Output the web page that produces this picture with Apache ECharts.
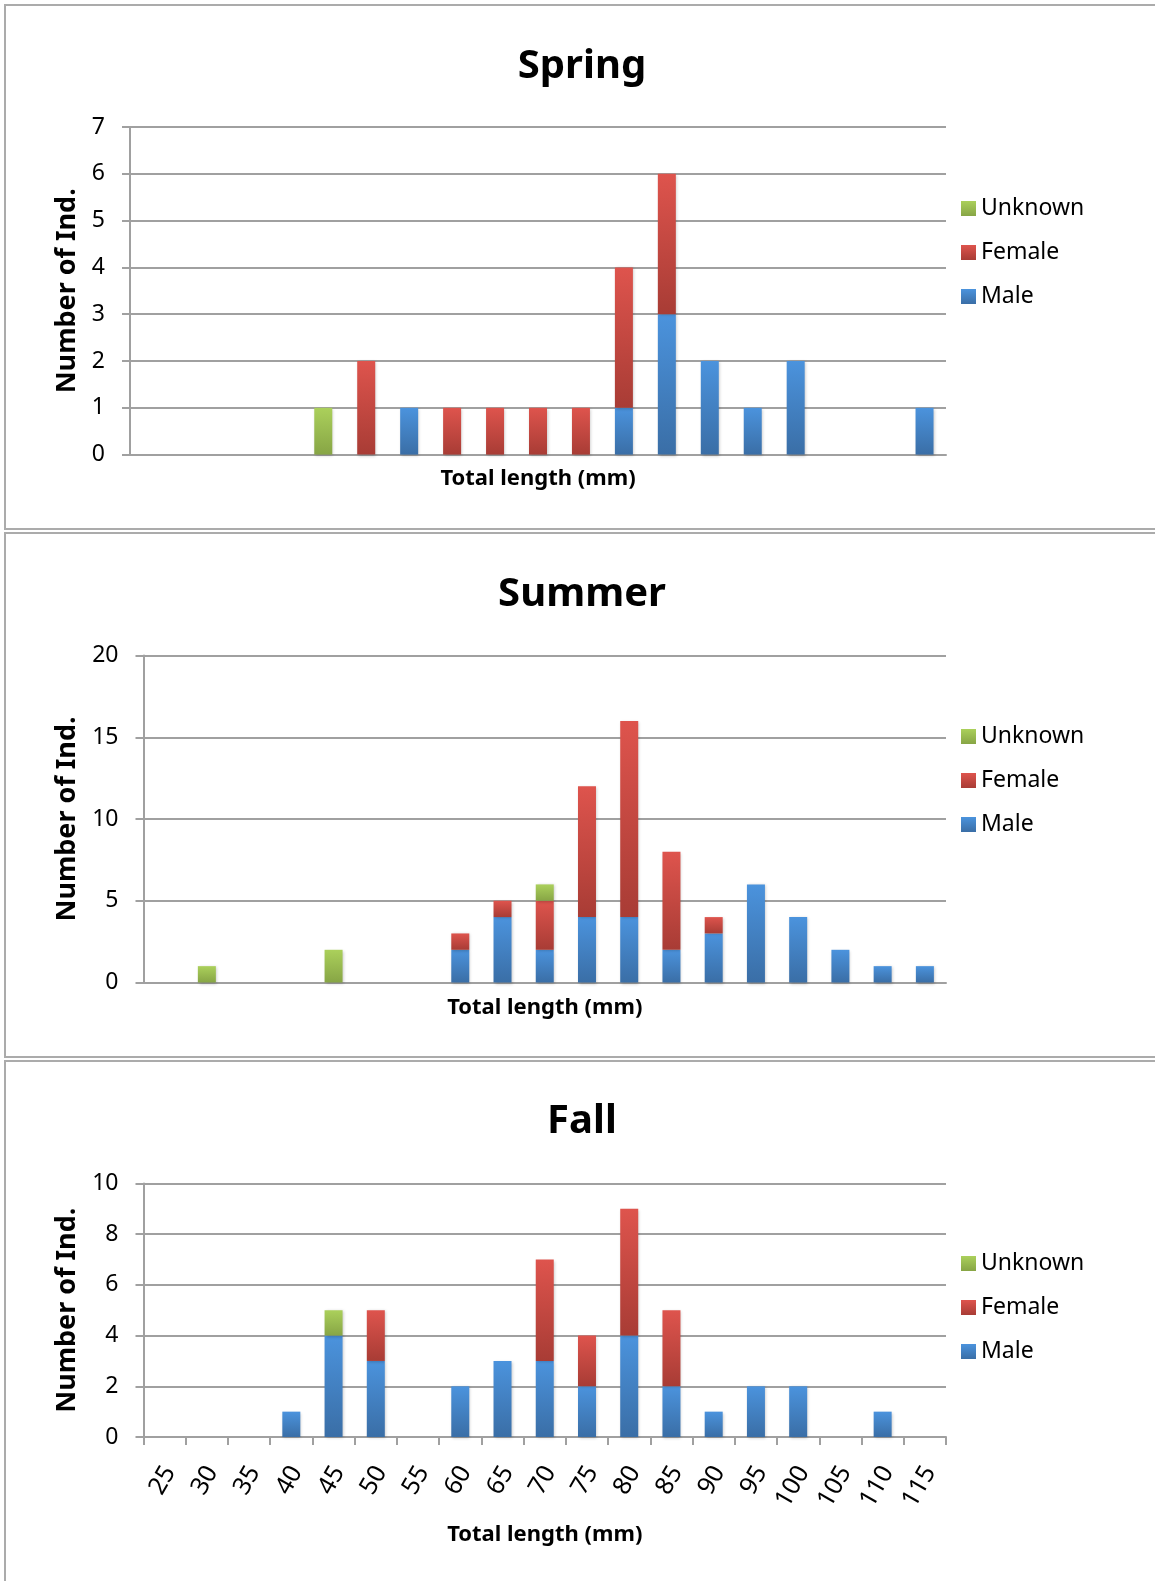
<!DOCTYPE html>
<html>
<head>
<meta charset="utf-8">
<title>Total length by season</title>
<script src="https://cdn.jsdelivr.net/npm/echarts@6/dist/echarts.min.js"></script>
<style>
    html, body { margin: 0; padding: 0; background: #fff; }
    #main { width: 1155px; height: 1581px; }
</style>
</head>
<body>
<div id="main"></div>
<script>
'use strict';
// x categories (total length, mm)
var lengths = ['25', '30', '35', '40', '45', '50', '55', '60', '65', '70', '75', '80', '85', '90', '95', '100', '105', '110', '115'];

// Spring
var springMale    = [0, 0, 0, 0, 0, 0, 1, 0, 0, 0, 0, 1, 3, 2, 1, 2, 0, 0, 1];
var springFemale  = [0, 0, 0, 0, 0, 2, 0, 1, 1, 1, 1, 3, 3, 0, 0, 0, 0, 0, 0];
var springUnknown = [0, 0, 0, 0, 1, 0, 0, 0, 0, 0, 0, 0, 0, 0, 0, 0, 0, 0, 0];

// Summer
var summerMale    = [0, 0, 0, 0, 0, 0, 0, 2, 4, 2, 4, 4, 2, 3, 6, 4, 2, 1, 1];
var summerFemale  = [0, 0, 0, 0, 0, 0, 0, 1, 1, 3, 8, 12, 6, 1, 0, 0, 0, 0, 0];
var summerUnknown = [0, 1, 0, 0, 2, 0, 0, 0, 0, 1, 0, 0, 0, 0, 0, 0, 0, 0, 0];

// Fall
var fallMale    = [0, 0, 0, 1, 4, 3, 0, 2, 3, 3, 2, 4, 2, 1, 2, 2, 0, 1, 0];
var fallFemale  = [0, 0, 0, 0, 0, 2, 0, 0, 0, 4, 2, 5, 3, 0, 0, 0, 0, 0, 0];
var fallUnknown = [0, 0, 0, 0, 1, 0, 0, 0, 0, 0, 0, 0, 0, 0, 0, 0, 0, 0, 0];

var seasons = ['Spring', 'Summer', 'Fall'];
var yMax = [7, 20, 10];
var yStep = [1, 5, 2];
var legendNames = ['Unknown', 'Female', 'Male'];

var FONT = '"Noto Sans", sans-serif';
var GRAY = '#a0a0a0';

// vertical gradients, light on top
function grad(top, bottom) {
    return {
        type: 'linear', x: 0, y: 0, x2: 0, y2: 1,
        colorStops: [{ offset: 0, color: top }, { offset: 1, color: bottom }]
    };
}
var colMale = grad('#4b93dd', '#3a6ea6');
var colFemale = grad('#de544d', '#a83c35');
var colUnknown = grad('#abd05b', '#87a545');

// layout of the three panels
var panels = [
    { top: 5, height: 524, grid: { left: 130, top: 127, width: 816, height: 327.6 }, titleTop: 42, legendTop: 192, xGap: 13, yGap: 49, labels: false },
    { top: 533, height: 524, grid: { left: 143.5, top: 655.5, width: 802.5, height: 327 }, titleTop: 570, legendTop: 720, xGap: 14, yGap: 62, labels: false },
    { top: 1061, height: 600, grid: { left: 143.5, top: 1183.5, width: 802.5, height: 253.5 }, titleTop: 1097, legendTop: 1247, xGap: 87, yGap: 62, labels: true }
];

var data = [
    [springMale, springFemale, springUnknown],
    [summerMale, summerFemale, summerUnknown],
    [fallMale, fallFemale, fallUnknown]
];

var titles = [], grids = [], xAxes = [], yAxes = [], legends = [], series = [], graphics = [];

for (var i = 0; i < 3; i++) {
    var p = panels[i];
    // panel frame, right side runs off the page
    graphics.push({
        type: 'rect',
        shape: { x: 5, y: p.top, width: 1200, height: p.height },
        style: { fill: 'none', stroke: '#ababab', lineWidth: 2 },
        silent: true
    });
    titles.push({
        text: seasons[i],
        left: 577,
        top: p.titleTop,
        textAlign: 'center',
        textStyle: { fontFamily: FONT, fontSize: 40, fontWeight: 'bold', color: '#000' }
    });
    grids.push(p.grid);
    xAxes.push({
        type: 'category',
        gridIndex: i,
        data: lengths,
        name: 'Total length (mm)',
        nameLocation: 'middle',
        nameGap: p.xGap,
        nameTextStyle: { fontFamily: FONT, fontSize: 22, fontWeight: 'bold', color: '#000' },
        axisLine: { lineStyle: { color: GRAY, width: 2 } },
        axisTick: { show: p.labels, length: 8, lineStyle: { color: GRAY, width: 2 } },
        axisLabel: {
            show: p.labels,
            interval: 0,
            rotate: 60,
            margin: 28,
            verticalAlign: 'top',
            lineHeight: 12,
            fontFamily: FONT,
            fontSize: 25,
            color: '#000'
        }
    });
    yAxes.push({
        type: 'value',
        gridIndex: i,
        min: 0,
        max: yMax[i],
        interval: yStep[i],
        name: 'Number of Ind.',
        nameLocation: 'middle',
        nameGap: p.yGap,
        nameTextStyle: { fontFamily: FONT, fontSize: 27, fontWeight: 'bold', color: '#000' },
        axisLine: { show: true, lineStyle: { color: GRAY, width: 2 } },
        axisTick: { show: true, length: 8, lineStyle: { color: GRAY, width: 2 } },
        axisLabel: { margin: 25, fontFamily: FONT, fontSize: 23, color: '#000' },
        splitLine: { lineStyle: { color: GRAY, width: 2 } }
    });
    legends.push({
        orient: 'vertical',
        left: 956,
        top: p.legendTop,
        itemWidth: 15,
        itemHeight: 15,
        itemGap: 21,
        icon: 'rect',
        data: legendNames,
        textStyle: { fontFamily: FONT, fontSize: 23, color: '#000' }
    });

    var cols = [colMale, colFemale, colUnknown];
    var names = ['Male', 'Female', 'Unknown'];
    for (var k = 0; k < 3; k++) {
        series.push({
            name: names[k],
            type: 'bar',
            stack: 'season' + i,
            xAxisIndex: i,
            yAxisIndex: i,
            barWidth: 18,
            data: data[i][k],
            itemStyle: {
                color: cols[k],
                shadowColor: 'rgba(0,0,0,0.22)',
                shadowBlur: 3,
                shadowOffsetX: 1,
                shadowOffsetY: 1
            }
        });
    }
}

var chart = echarts.init(document.getElementById('main'));
chart.setOption({
    animation: false,
    backgroundColor: '#fff',
    title: titles,
    grid: grids,
    xAxis: xAxes,
    yAxis: yAxes,
    legend: legends,
    series: series,
    graphic: graphics
});
</script>
</body>
</html>
